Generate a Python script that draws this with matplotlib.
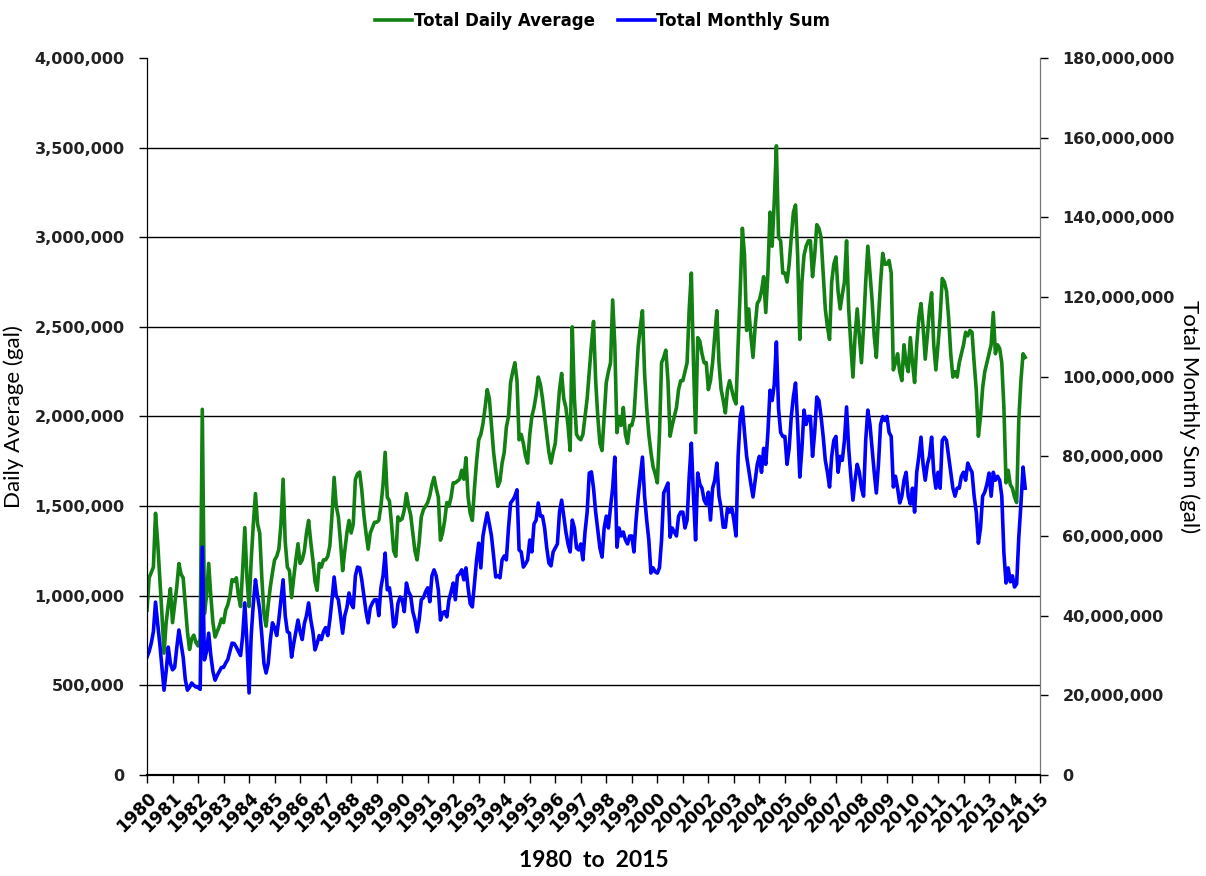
import numpy as np
import matplotlib
matplotlib.use("Agg")
import matplotlib.pyplot as plt
from matplotlib.ticker import FuncFormatter

# monthly values, Jan 1980 .. Jun 2014
daily_avg_k = [
    920, 1100, 1130, 1160, 1460, 1300, 1100, 900, 680, 850, 950, 1040,      # 1980
    850, 950, 1050, 1180, 1120, 1100, 950, 800, 700, 760, 780, 740,         # 1981
    720, 760, 2040, 900, 1000, 1180, 1000, 850, 770, 800, 830, 870,         # 1982
    850, 920, 950, 1000, 1090, 1080, 1100, 1000, 940, 1150, 1380, 1100,     # 1983
    940, 1200, 1400, 1570, 1400, 1350, 1100, 900, 830, 950, 1050, 1130,     # 1984
    1200, 1220, 1260, 1400, 1650, 1300, 1160, 1140, 990, 1100, 1200, 1290,  # 1985
    1180, 1200, 1250, 1350, 1420, 1300, 1200, 1080, 1030, 1180, 1160, 1200, # 1986
    1200, 1220, 1280, 1450, 1660, 1500, 1440, 1300, 1140, 1250, 1350, 1420, # 1987
    1350, 1400, 1650, 1680, 1690, 1590, 1450, 1350, 1260, 1350, 1380, 1410, # 1988
    1410, 1420, 1500, 1620, 1800, 1550, 1530, 1400, 1250, 1220, 1440, 1420, # 1989
    1430, 1480, 1570, 1500, 1450, 1350, 1250, 1200, 1300, 1440, 1480, 1500, # 1990
    1520, 1560, 1620, 1660, 1600, 1550, 1310, 1350, 1420, 1520, 1500, 1550, # 1991
    1630, 1630, 1640, 1650, 1700, 1650, 1770, 1550, 1460, 1420, 1600, 1750, # 1992
    1870, 1900, 1960, 2050, 2150, 2100, 1950, 1800, 1700, 1610, 1640, 1740, # 1993
    1800, 1940, 2000, 2190, 2250, 2300, 2200, 1870, 1900, 1850, 1780, 1740, # 1994
    1900, 2000, 2050, 2120, 2220, 2180, 2100, 2000, 1900, 1800, 1740, 1800, # 1995
    1850, 2000, 2150, 2240, 2100, 2050, 1950, 1810, 2500, 2100, 1900, 1880, # 1996
    1870, 1900, 2000, 2100, 2250, 2400, 2530, 2200, 2000, 1850, 1810, 2000, # 1997
    2190, 2250, 2300, 2650, 2400, 1910, 2000, 1950, 2050, 1900, 1850, 1950, # 1998
    1950, 2000, 2200, 2390, 2500, 2590, 2240, 2050, 1900, 1800, 1720, 1680, # 1999
    1630, 1900, 2300, 2330, 2370, 2200, 1890, 1950, 2000, 2050, 2150, 2200, # 2000
    2200, 2250, 2300, 2600, 2800, 2300, 1910, 2440, 2420, 2350, 2300, 2300, # 2001
    2150, 2200, 2300, 2450, 2590, 2300, 2150, 2090, 2020, 2150, 2200, 2150, # 2002
    2100, 2070, 2400, 2710, 3050, 2900, 2480, 2600, 2450, 2330, 2500, 2630, # 2003
    2650, 2700, 2780, 2580, 2800, 3140, 2950, 3200, 3510, 3000, 2980, 2800, # 2004
    2800, 2750, 2850, 3000, 3140, 3180, 2900, 2430, 2750, 2900, 2950, 2980, # 2005
    2980, 2780, 2900, 3070, 3050, 3000, 2800, 2600, 2500, 2430, 2750, 2850, # 2006
    2890, 2700, 2600, 2680, 2750, 2980, 2600, 2400, 2220, 2450, 2600, 2450, # 2007
    2300, 2500, 2750, 2950, 2800, 2650, 2450, 2330, 2550, 2750, 2910, 2850, # 2008
    2850, 2870, 2800, 2260, 2300, 2350, 2250, 2200, 2400, 2300, 2250, 2440, # 2009
    2300, 2190, 2400, 2550, 2630, 2500, 2320, 2450, 2600, 2690, 2400, 2260, # 2010
    2400, 2550, 2770, 2750, 2700, 2550, 2350, 2220, 2250, 2220, 2300, 2350, # 2011
    2400, 2470, 2450, 2480, 2470, 2300, 2150, 1890, 2000, 2160, 2250, 2300, # 2012
    2350, 2400, 2580, 2350, 2400, 2380, 2300, 2050, 1630, 1700, 1620, 1600, # 2013
    1550, 1520, 1980, 2200, 2350, 2330,                                     # 2014
]

monthly_sum_m = [
    29.6, 31, 33.1, 36, 43.4, 38, 33, 27, 21.3, 26, 32.1, 28,         # 1980
    26.4, 27, 32, 36.4, 33, 29.6, 24, 21.3, 22, 23.1, 22.5, 22.1,     # 1981
    22, 21.5, 57.2, 28.9, 31, 35.6, 30, 26, 23.8, 25, 26, 27,         # 1982
    27, 28.1, 29, 31, 33.1, 33, 32.1, 31, 30, 35, 43.2, 33,           # 1983
    20.6, 35, 43, 49, 45, 41.4, 35, 28, 25.6, 28, 33.9, 38.2,         # 1984
    37, 35, 39, 44, 49, 40, 36, 35.6, 29.6, 33, 36, 38.9,             # 1985
    36, 34, 38, 40, 43.2, 39, 36, 31.4, 33, 35, 34, 36,               # 1986
    37, 35, 39, 44, 49.7, 45, 44, 40, 35.6, 40, 42, 45.7,             # 1987
    43, 42, 50, 52.2, 52, 49, 45, 41, 38.2, 42, 43.2, 44,             # 1988
    44, 40, 47, 50, 55.7, 46.5, 47, 43, 37.2, 38, 43, 44.7,           # 1989
    44, 41, 48.2, 46, 45, 41, 39, 35.9, 39, 44, 44.5, 46,             # 1990
    47, 43.5, 50, 51.5, 50, 46.5, 38.9, 40.7, 41, 39.7, 44, 46,       # 1991
    48.2, 44, 50, 50.5, 51.5, 49, 52, 47, 43, 42.2, 48, 54,           # 1992
    58.2, 52, 60, 63, 65.8, 63, 60, 55, 49.7, 50, 49.5, 54,           # 1993
    55, 54, 62, 68.3, 69, 70, 71.6, 56.5, 56, 52.2, 53, 54,           # 1994
    59, 56, 63, 64, 68.3, 65, 65, 62, 57, 53.2, 52.5, 56,             # 1995
    57, 58, 66, 69, 65, 61, 58, 56, 64, 62, 57, 56.5,                 # 1996
    58, 54, 61, 66, 75.8, 76.1, 72, 66, 61.5, 57, 54.7, 62,           # 1997
    65, 62, 67.3, 72, 79.8, 57.2, 62, 60, 61, 59, 58, 60,             # 1998
    60, 56, 64, 70, 75, 79.8, 70, 64, 59, 50.7, 52, 51,               # 1999
    50.7, 52, 59, 70.8, 72, 73.3, 59.7, 62, 61, 60, 65, 66,           # 2000
    66, 62, 64, 75, 83.3, 70, 59, 75.8, 73, 72, 69, 68,               # 2001
    71, 64, 72, 74, 78.3, 70, 67, 62.2, 62.2, 67, 66, 67,             # 2002
    64, 60, 80, 89.9, 92.4, 86, 80, 76.6, 73, 69.8, 74, 78,           # 2003
    80, 76, 82, 78, 86, 96.6, 94, 98, 108.7, 92, 86, 85,              # 2004
    85, 78, 82, 90, 95, 98.4, 88, 74.8, 82, 91.6, 88, 90,             # 2005
    90, 80, 86, 94.9, 94, 90, 85, 79, 76, 72.3, 80, 84,               # 2006
    85, 76, 80, 79, 84, 92.4, 82, 75, 69, 74, 78, 76,                 # 2007
    72, 70, 84, 91.6, 88, 82, 76, 70.8, 78, 88, 90, 89,               # 2008
    90, 86, 85, 72.3, 75, 72, 68.3, 70, 74, 76, 70, 68,               # 2009
    72, 66, 76, 80, 84.8, 78, 74, 78, 80, 84.8, 76, 72,               # 2010
    76, 72, 84, 84.8, 84, 80, 76, 72, 70, 72, 72, 75,                 # 2011
    76, 74, 78.3, 77, 76, 70, 66, 58.2, 62, 70, 71, 73,               # 2012
    75.8, 70, 76, 74, 75, 74, 70, 55.7, 48.2, 52, 48.5, 50,           # 2013
    47.2, 48, 59.7, 68, 77.3, 72,                                     # 2014
]

years = list(range(1980, 2016))

daily_avg = np.array(daily_avg_k) * 1000
monthly_sum = np.array(monthly_sum_m) * 1e6
x = 1980 + np.arange(len(daily_avg)) / 12

fig = plt.figure(figsize=(12.06, 8.76), dpi=100)
ax = fig.add_axes([0.1219, 0.1153, 0.7405, 0.8185])
ax2 = ax.twinx()

green_line, = ax.plot(x, daily_avg, color="#128012", lw=2.6, label="Total Daily Average")
blue_line, = ax2.plot(x, monthly_sum, color="#0000ff", lw=2.6, label="Total Monthly Sum")

ax.set_xlim(1980, 2015)
ax.set_ylim(0, 4000000)
ax2.set_ylim(0, 180000000)
ax.set_yticks(np.arange(0, 4000001, 500000))
ax2.set_yticks(np.arange(0, 180000001, 20000000))
comma = FuncFormatter(lambda v, p: f"{v:,.0f}")
ax.yaxis.set_major_formatter(comma)
ax2.yaxis.set_major_formatter(comma)

ax.yaxis.grid(True, color="black", lw=1.0)
ax.get_ygridlines()[-1].set_visible(False)
ax.set_axisbelow(True)

ax.set_xticks(years)
ax.set_xticklabels([str(y) for y in years], rotation=45, ha="right",
                   rotation_mode="anchor", fontweight="bold", fontsize=12.5,
                   family=["Liberation Sans Narrow", "DejaVu Sans"])
for lab in ax.get_yticklabels() + ax2.get_yticklabels():
    lab.set_fontweight("bold")
    lab.set_fontsize(11.5)
    lab.set_color("#222222")

ax.tick_params(axis="x", direction="out", length=6, width=1, pad=4)
ax.tick_params(axis="y", direction="out", length=6, width=1, pad=10)
ax2.tick_params(axis="y", direction="out", length=6, width=1, pad=10)

for a in (ax, ax2):
    a.spines["top"].set_visible(False)
    a.spines["left"].set_color("black")
    a.spines["right"].set_color("#777777")
    a.spines["bottom"].set_color("black")
    a.spines["bottom"].set_linewidth(1.5)

ax.set_ylabel("Daily Average (gal)", fontsize=16, family="Lato", labelpad=8)
ax2.set_ylabel("Total Monthly Sum (gal)", fontsize=16, family="Lato",
               rotation=270, labelpad=18)
ax.set_xlabel("1980  to  2015", fontsize=16.5, fontweight="bold", family="Lato", labelpad=10)

fig.legend(handles=[green_line, blue_line], loc="upper center",
           bbox_to_anchor=(0.5, 1.0), ncol=2, frameon=False,
           prop={"family": "DejaVu Sans", "weight": "bold", "size": 12},
           handlelength=2.2, columnspacing=1.4, handletextpad=0.1,
           borderaxespad=0.3)

fig.savefig("out.png", dpi=100)
